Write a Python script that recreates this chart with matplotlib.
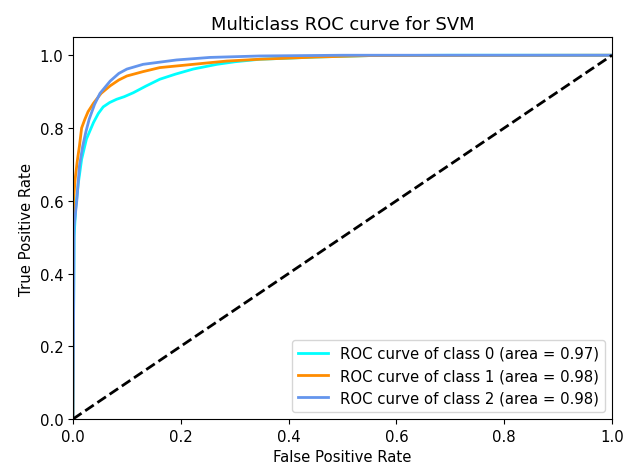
import matplotlib
matplotlib.use("Agg")
import matplotlib.pyplot as plt

# ROC points per class (false positive rate, true positive rate)
fpr_0 = [0, 0.002, 0.005, 0.010, 0.016, 0.025, 0.038, 0.047, 0.056, 0.068, 0.081,
         0.095, 0.112, 0.135, 0.161, 0.190, 0.223, 0.267, 0.30, 0.347, 0.40, 0.45, 0.55, 0.7, 1.0]
tpr_0 = [0, 0.50, 0.58, 0.65, 0.714, 0.77, 0.815, 0.840, 0.858, 0.870, 0.879,
         0.886, 0.897, 0.915, 0.934, 0.948, 0.962, 0.975, 0.982, 0.989, 0.992, 0.995, 0.999, 1.0, 1.0]

fpr_1 = [0, 0.001, 0.004, 0.008, 0.012, 0.016, 0.022, 0.028, 0.038, 0.052, 0.069, 0.085, 0.10,
         0.13, 0.161, 0.223, 0.285, 0.347, 0.45, 0.55, 1.0]
tpr_1 = [0, 0.60, 0.66, 0.71, 0.751, 0.80, 0.824, 0.845, 0.868, 0.895, 0.916, 0.932, 0.943,
         0.955, 0.966, 0.975, 0.984, 0.989, 0.995, 0.999, 1.0]

fpr_2 = [0, 0.002, 0.007, 0.012, 0.018, 0.024, 0.030, 0.04, 0.05, 0.069, 0.085, 0.10,
         0.13, 0.192, 0.254, 0.347, 0.5, 1.0]
tpr_2 = [0, 0.53, 0.60, 0.696, 0.75, 0.79, 0.824, 0.865, 0.895, 0.929, 0.950, 0.962,
         0.975, 0.987, 0.994, 0.998, 1.0, 1.0]

roc_auc = [0.97, 0.98, 0.98]
colors = ["aqua", "darkorange", "cornflowerblue"]

plt.rcParams["font.size"] = 10.7

fig = plt.figure(figsize=(6.37, 4.64), dpi=100)
ax = fig.add_axes([0.1146, 0.0948, 0.8462, 0.8232])

for i, (fpr, tpr) in enumerate([(fpr_0, tpr_0), (fpr_1, tpr_1), (fpr_2, tpr_2)]):
    ax.plot(fpr, tpr, color=colors[i], lw=2,
            label="ROC curve of class {0} (area = {1:0.2f})".format(i, roc_auc[i]))

ax.plot([0, 1], [0, 1], "k--", lw=2)
ax.set_xlim([0.0, 1.0])
ax.set_ylim([0.0, 1.05])
ax.set_xlabel("False Positive Rate")
ax.set_ylabel("True Positive Rate")
ax.set_title("Multiclass ROC curve for SVM", fontsize=12.9)
ax.legend(loc="lower right")

fig.savefig("out.png", dpi=100)
